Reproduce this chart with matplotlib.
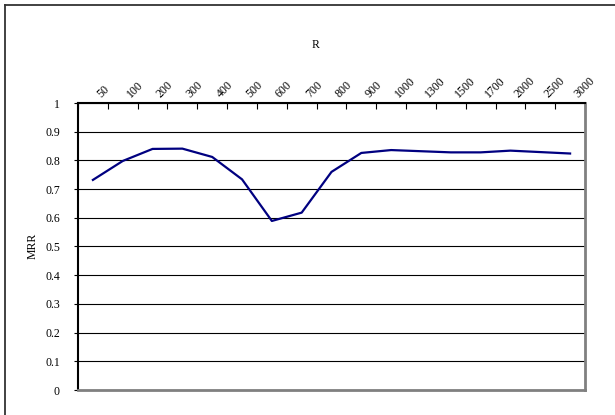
#!/usr/bin/env python3
import matplotlib
matplotlib.use('Agg')
import matplotlib.pyplot as plt
import matplotlib.transforms as mtrans
import numpy as np

plt.rcParams['font.family'] = ['Liberation Serif', 'DejaVu Serif']

# values
r_labels = ['50', '100', '200', '300', '400', '500', '600', '700', '800', '900',
            '1000', '1300', '1500', '1700', '2000', '2500', '3000']
mrr = [0.732, 0.798, 0.840, 0.841, 0.812, 0.734, 0.589, 0.618, 0.760, 0.826,
       0.836, 0.832, 0.828, 0.828, 0.834, 0.829, 0.824]
yticks = [0, 0.1, 0.2, 0.3, 0.4, 0.5, 0.6, 0.7, 0.8, 0.9, 1]

fig = plt.figure(figsize=(6.15, 4.15), dpi=100)
ax = fig.add_axes([78 / 615, 1 - 390 / 415, 507 / 615, 287 / 415])

x = np.arange(len(r_labels))
ax.plot(x, mrr, color='#000080', lw=1.6, zorder=3)

ax.set_xlim(-0.5, len(r_labels) - 0.5)
ax.set_ylim(0, 1)

# gridlines
ax.set_yticks(yticks)
ax.set_yticklabels(['%g' % v for v in yticks])
ax.yaxis.grid(True, color='black', lw=0.8)
ax.set_axisbelow(True)
ax.tick_params(axis='y', direction='out', length=3, width=0.8, pad=10, labelsize=8.5)

# category axis on top
ax.xaxis.tick_top()
ax.set_xticks(x)
ax.set_xticks(np.arange(len(r_labels) + 1) - 0.5, minor=True)
ax.tick_params(axis='x', which='major', length=0, pad=5, labelsize=8.5)
ax.tick_params(axis='x', which='minor', direction='in', length=4, width=0.8, top=True, bottom=False)
labs = ax.set_xticklabels(r_labels, rotation=45, ha='left', va='center', rotation_mode='anchor')
shift = mtrans.ScaledTranslation(6 / 100, 0, fig.dpi_scale_trans)
for t in labs:
    t.set_transform(t.get_transform() + shift)

for s in ['top', 'left']:
    ax.spines[s].set_color('black')
    ax.spines[s].set_linewidth(1.5)
for s in ['right', 'bottom']:
    ax.spines[s].set_color('#808080')
    ax.spines[s].set_linewidth(2)

fig.text(316 / 615, 1 - 45 / 415, 'R', ha='center', va='center', fontsize=8.5)
fig.text(33 / 615, 1 - 246 / 415, 'MRR', ha='center', va='center', rotation=90, fontsize=8.5)

# chart area border (cut off at right and bottom like the reference)
fig.add_artist(plt.Line2D([4.5 / 615, 4.5 / 615], [0, 1 - 5 / 415], color='#333333', lw=1.3,
                          transform=fig.transFigure))
fig.add_artist(plt.Line2D([4.5 / 615, 1], [1 - 5 / 415, 1 - 5 / 415], color='#333333', lw=1.3,
                          transform=fig.transFigure))

fig.savefig('out.png', dpi=100)
